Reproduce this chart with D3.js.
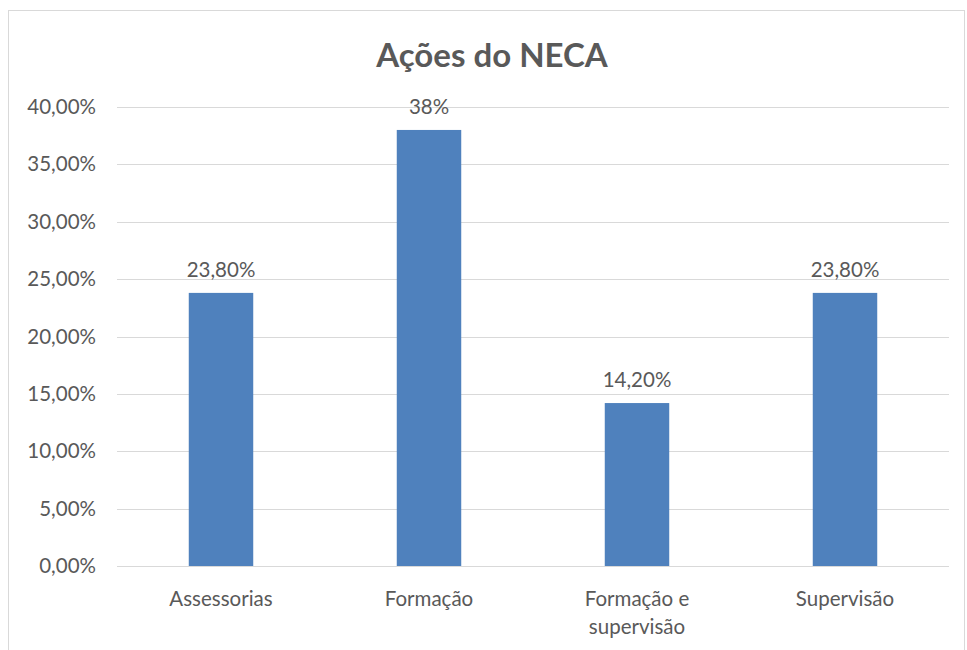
<!DOCTYPE html>
<html>
<head>
<meta charset="utf-8">
<script src="https://cdn.jsdelivr.net/npm/d3@7"></script>
<style>
  body { margin: 0; background: #fff; }
  svg text { font-family: Lato, "Open Sans", sans-serif; fill: #595959; }
</style>
</head>
<body>
<svg id="chart" width="967" height="650"></svg>
<script>
// data
const categories = ["Assessorias", "Formação", "Formação e supervisão", "Supervisão"];
const values = [23.8, 38, 14.2, 23.8];
const valueLabels = ["23,80%", "38%", "14,20%", "23,80%"];
const yTicks = [0, 5, 10, 15, 20, 25, 30, 35, 40];

const svg = d3.select("#chart");

// chart border
svg.append("rect")
  .attr("x", 8.5).attr("y", 10.5)
  .attr("width", 956).attr("height", 660)
  .attr("fill", "none").attr("stroke", "#d9d9d9");

const plotLeft = 117, plotRight = 949, plotTop = 107, plotBottom = 566;

const x = d3.scaleBand().domain(categories).range([plotLeft, plotRight]).paddingInner(0.69).paddingOuter(0.345);
const y = d3.scaleLinear().domain([0, 40]).range([plotBottom, plotTop]);

// gridlines
svg.append("g")
  .selectAll("line")
  .data(yTicks)
  .join("line")
  .attr("x1", plotLeft).attr("x2", plotRight)
  .attr("y1", d => Math.round(y(d)) + 0.5)
  .attr("y2", d => Math.round(y(d)) + 0.5)
  .attr("stroke", "#d9d9d9").attr("stroke-width", 1);

// y axis labels
svg.append("g")
  .selectAll("text")
  .data(yTicks)
  .join("text")
  .attr("x", 96)
  .attr("y", d => y(d) + 7)
  .attr("text-anchor", "end")
  .attr("font-size", 20.5)
  .text(d => d3.format(".2f")(d).replace(".", ",") + "%");

// bars
svg.append("g")
  .selectAll("rect")
  .data(values)
  .join("rect")
  .attr("x", (d, i) => x(categories[i]))
  .attr("y", d => y(d))
  .attr("width", x.bandwidth())
  .attr("height", d => plotBottom - y(d))
  .attr("fill", "#4f81bd");

// value labels
svg.append("g")
  .selectAll("text")
  .data(values)
  .join("text")
  .attr("x", (d, i) => x(categories[i]) + x.bandwidth() / 2)
  .attr("y", d => y(d) - 16)
  .attr("text-anchor", "middle")
  .attr("font-size", 20.5)
  .text((d, i) => valueLabels[i]);

// x axis category labels (wrapped like the original)
const catLines = { "Formação e supervisão": ["Formação e", "supervisão"] };
categories.forEach(c => {
  const lines = catLines[c] || [c];
  const t = svg.append("text")
    .attr("x", x(c) + x.bandwidth() / 2)
    .attr("y", 606)
    .attr("text-anchor", "middle")
    .attr("font-size", 20.5);
  lines.forEach((l, j) => {
    t.append("tspan")
      .attr("x", x(c) + x.bandwidth() / 2)
      .attr("dy", j === 0 ? 0 : 28)
      .text(l);
  });
});

// title
svg.append("text")
  .attr("x", 492)
  .attr("y", 67)
  .attr("text-anchor", "middle")
  .attr("font-size", 33)
  .attr("font-weight", "bold")
  .text("Ações do NECA");
</script>
</body>
</html>
